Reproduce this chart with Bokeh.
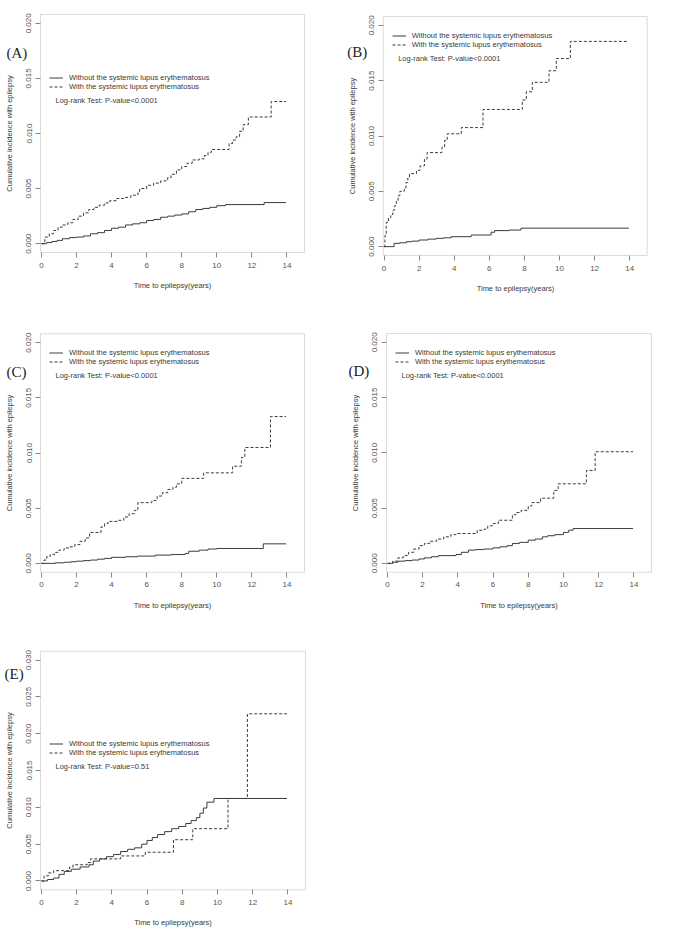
from bokeh.plotting import figure
from bokeh.layouts import column, row
from bokeh.models import Range1d, Label, Legend, LegendItem, FixedTicker, BoxAnnotation
from bokeh.embed import file_html
from bokeh.resources import INLINE

# ---- data: cumulative incidence step curves (time in years, value after step) ----
T_END = 13.95

a_non_t = [0, 0.3, 0.6, 0.9, 1.2, 1.6, 2.0, 2.4, 2.8, 3.2, 3.6, 4.0, 4.4, 4.8, 5.2, 5.6, 6.0,
           6.4, 6.8, 7.2, 7.6, 8.0, 8.4, 8.8, 9.2, 9.6, 10.0, 10.5, 12.7]
a_non_v = [0, .0001, .0002, .0003, .00045, .00055, .0006, .0007, .0009, .001, .0012, .0014,
           .0015, .0017, .0018, .0019, .0021, .0022, .0024, .0025, .0026, .0027, .0029, .0031,
           .0032, .0033, .00345, .00355, .00373]
a_sle_t = [0, 0.2, 0.45, 0.7, 0.95, 1.2, 1.5, 1.8, 2.1, 2.4, 2.7, 3.0, 3.3, 3.6, 3.9, 4.3, 4.7,
           5.1, 5.5, 5.6, 6.0, 6.4, 6.8, 7.2, 7.4, 7.7, 8.0, 8.3, 8.6, 9.0, 9.3, 9.5, 9.7, 10.7,
           10.9, 11.1, 11.3, 11.5, 11.8, 13.1]
a_sle_v = [0, .0006, .0009, .0012, .0015, .0017, .0019, .0022, .0025, .0028, .0031, .0033,
           .0035, .0037, .0039, .0041, .0042, .0044, .0046, .0050, .0053, .0055, .0057, .0060,
           .0063, .0067, .0070, .0073, .0076, .0077, .0080, .0083, .00855, .0091, .0094, .0097,
           .0102, .0108, .0115, .0129]

b_non_t = [0, 0.57, 0.9, 1.27, 1.6, 2.0, 2.5, 2.97, 3.4, 3.83, 4.97, 6.1, 6.3, 7.16, 7.8]
b_non_v = [0, .0003, .00035, .00045, .0005, .0006, .00068, .00075, .0008, .0009, .00105,
           .0013, .00145, .0015, .00167]
b_sle_t = [0, 0.05, 0.12, 0.25, 0.38, 0.5, 0.6, 0.7, 0.8, 0.9, 1.15, 1.25, 1.35, 1.45, 1.85,
           2.05, 2.3, 2.45, 3.3, 3.45, 3.6, 4.4, 5.64, 7.88, 8.11, 8.45, 9.4, 9.82, 10.62]
b_sle_v = [0, .0010, .0022, .0026, .0029, .0033, .0037, .0041, .0046, .0050, .0053, .0058,
           .0062, .0066, .0069, .0073, .0079, .0085, .0090, .0096, .0102, .01076, .0124,
           .01325, .0140, .01485, .0159, .0170, .01855]

c_non_t = [0, 0.8, 1.3, 1.7, 2.0, 2.4, 2.8, 3.2, 3.6, 4.0, 4.8, 5.5, 6.5, 7.4, 8.2, 8.4, 9.0,
           9.5, 10.0, 12.65]
c_non_v = [0, .00005, .0001, .00015, .0002, .00025, .0003, .00038, .00045, .00055, .0006,
           .00066, .00075, .0008, .0009, .0011, .0012, .0013, .00135, .00177]
c_sle_t = [0, 0.15, 0.3, 0.5, 0.75, 1.0, 1.3, 1.6, 1.9, 2.2, 2.5, 2.75, 3.4, 3.6, 3.8, 4.4,
           4.7, 5.0, 5.3, 5.5, 6.3, 6.6, 6.9, 7.2, 7.5, 7.7, 8.0, 9.25, 10.9, 11.4, 11.6, 13.06]
c_sle_v = [0, .0003, .0006, .0008, .001, .0012, .0014, .0015, .0017, .0020, .0023, .0028,
           .0033, .0036, .0038, .0039, .0042, .0045, .0048, .0055, .0057, .0061, .0064, .0067,
           .0069, .0072, .0077, .0082, .0088, .0096, .0105, .0133]

d_non_t = [0, 0.3, 0.6, 1.0, 1.4, 1.8, 2.1, 2.5, 2.9, 3.9, 4.2, 4.6, 5.0, 5.5, 6.0, 6.4, 6.8,
           7.1, 7.5, 8.0, 8.4, 8.8, 9.1, 9.5, 10.0, 10.3, 10.55]
d_non_v = [0, .0001, .0002, .00025, .0003, .0004, .0005, .0006, .0007, .0008, .001, .0012,
           .00125, .0013, .0014, .0015, .0016, .0018, .0019, .0021, .0022, .0024, .0025,
           .0026, .0028, .0030, .00315]
d_sle_t = [0, 0.3, 0.6, 0.9, 1.2, 1.5, 1.8, 2.1, 2.4, 2.8, 3.2, 3.6, 3.9, 5.1, 5.5, 5.7, 6.0,
           6.3, 7.1, 7.3, 7.6, 8.0, 8.2, 8.7, 9.45, 9.7, 11.3, 11.8]
d_sle_v = [0, .0002, .0005, .0007, .001, .0013, .0016, .0018, .002, .0022, .0024, .0026,
           .0027, .0030, .0031, .0034, .0036, .0039, .0044, .0046, .0048, .0052, .0055, .0059,
           .0066, .0072, .0084, .0101]

e_non_t = [0, 0.35, 0.7, 1.0, 1.3, 1.7, 2.2, 2.7, 2.95, 3.3, 3.7, 4.1, 4.5, 4.9, 5.3, 5.7,
           6.0, 6.3, 6.6, 7.0, 7.4, 7.8, 8.2, 8.5, 8.8, 9.0, 9.2, 9.4, 9.8]
e_non_v = [0, .0002, .0004, .0009, .0013, .0016, .0019, .0022, .0027, .0030, .0033, .0036,
           .0040, .0043, .0045, .0050, .0055, .0059, .0063, .0067, .0071, .0074, .0078, .0082,
           .0086, .0092, .0099, .0107, .0112]
e_sle_t = [0, 0.15, 0.4, 0.7, 1.6, 1.8, 2.6, 2.8, 4.5, 5.9, 7.5, 8.6, 10.6, 11.7]
e_sle_v = [0, .0007, .0011, .0014, .0019, .0022, .0025, .0030, .0034, .0039, .0056, .0071,
           .0112, .0227]

x_ticks = [0, 2, 4, 6, 8, 10, 12, 14]
y_ticks_20 = [0.0, 0.005, 0.010, 0.015, 0.020]
y_labels_20 = ["0.000", "0.005", "0.010", "0.015", "0.020"]
y_ticks_30 = [0.0, 0.005, 0.010, 0.015, 0.020, 0.025, 0.030]
y_labels_30 = ["0.000", "0.005", "0.010", "0.015", "0.020", "0.025", "0.030"]

label_non = "Without the systemic lupus erythematosus"
label_sle = "With the systemic lupus erythematosus"
p_strong = "Log-rank Test: P-value<0.0001"
p_weak = "Log-rank Test: P-value=0.51"

SANS = "Liberation Sans"
SERIF = "Liberation Serif"
LINE = "#3c3c3c"
BOX = "#8a8a8a"
TXT = "#3a3a3a"

X_LO, X_HI = -0.05, 15.0   # extent of the plotting box in years


def extend(t, v):
    return list(t) + [T_END], list(v) + [v[-1]]


def panel(tag, t_non, v_non, t_sle, v_sle, ptext, y_ticks, y_labels, width, height,
          box, legend_top, tag_dx, tag_dy):
    """box = (left, right, top, bottom) of the plotting box in canvas pixels."""
    bl, br, bt, bb = box
    y_top = y_ticks[-1]
    pad = 0.04 * y_top
    y_lo, y_hi = -pad, y_top + pad

    # the frame covers the whole canvas; axes sit on the edges of the box
    kx = (br - bl) / (X_HI - X_LO)
    ky = (bb - bt) / (y_hi - y_lo)
    x_range = Range1d(X_LO - bl / kx, X_HI + (width - br) / kx)
    y_range = Range1d(y_lo - (height - bb) / ky, y_hi + bt / ky)

    p = figure(width=width, height=height, output_backend="svg", toolbar_location=None,
               x_range=x_range, y_range=y_range, min_border=0)
    p.grid.visible = False
    p.outline_line_color = None
    p.background_fill_color = "white"
    p.border_fill_color = "white"

    p.add_layout(BoxAnnotation(left=X_LO, right=X_HI, bottom=y_lo, top=y_hi,
                               fill_color=None, line_color=BOX, line_width=1))

    for ax in (p.xaxis[0], p.yaxis[0]):
        ax.axis_line_color = None
        ax.major_tick_line_color = BOX
        ax.major_tick_out = 5
        ax.major_tick_in = 0
        ax.minor_tick_line_color = None
        ax.major_label_text_font = SANS
        ax.major_label_text_font_size = "8px"
        ax.major_label_text_color = "#555555"
        ax.major_label_standoff = 4
        ax.axis_label_text_font = SANS
        ax.axis_label_text_font_size = "7.5px"
        ax.axis_label_text_font_style = "normal"
        ax.axis_label_text_color = TXT
        ax.axis_label_standoff = 10

    p.xaxis.fixed_location = y_lo
    p.xaxis.bounds = (X_LO, X_HI)
    p.xaxis.ticker = FixedTicker(ticks=x_ticks)
    p.xaxis.major_label_standoff = 5
    p.xaxis.axis_label = "Time to epilepsy(years)"

    p.yaxis.fixed_location = X_LO
    p.yaxis.bounds = (y_lo, y_hi)
    p.yaxis.ticker = FixedTicker(ticks=y_ticks)
    p.yaxis.major_label_overrides = {t: s for t, s in zip(y_ticks, y_labels)}
    p.yaxis.major_label_orientation = "parallel"
    p.yaxis.axis_label = "Cumulative incidence with epilepsy"

    xn, yn = extend(t_non, v_non)
    xs, ys = extend(t_sle, v_sle)
    r_non = p.step(xn, yn, mode="after", line_color=LINE, line_width=1)
    r_sle = p.step(xs, ys, mode="after", line_color=LINE, line_width=1, line_dash="3 2")

    leg = Legend(items=[LegendItem(label=label_non, renderers=[r_non]),
                        LegendItem(label=label_sle, renderers=[r_sle])],
                 location=(bl + 9, height - (bt + legend_top) - 18),
                 glyph_width=14, glyph_height=9, label_height=9, label_standoff=6,
                 spacing=0, padding=0, margin=0, border_line_color=None,
                 background_fill_alpha=0, label_text_font=SANS,
                 label_text_font_size="7.5px", label_text_color=TXT)
    p.add_layout(leg)

    p.add_layout(Label(x=X_LO, y=y_hi, x_offset=15, y_offset=-(legend_top + 27),
                       text=ptext, text_font=SANS, text_font_size="7.5px",
                       text_color=TXT, text_baseline="middle"))
    p.add_layout(Label(x=X_LO, y=y_hi, x_offset=tag_dx, y_offset=-tag_dy,
                       text=tag, text_font=SERIF, text_font_size="15px",
                       text_color="#222222", text_baseline="middle"))
    return p


pa = panel("(A)", a_non_t, a_non_v, a_sle_t, a_sle_v, p_strong, y_ticks_20, y_labels_20,
           340, 300, (40, 304, 14, 252), legend_top=58.5, tag_dx=-34, tag_dy=38)
pb = panel("(B)", b_non_t, b_non_v, b_sle_t, b_sle_v, p_strong, y_ticks_20, y_labels_20,
           347, 300, (42.7, 306.7, 16, 255), legend_top=15, tag_dx=-36, tag_dy=35)
pc = panel("(C)", c_non_t, c_non_v, c_sle_t, c_sle_v, p_strong, y_ticks_20, y_labels_20,
           340, 320, (40, 304, 33.3, 271.7), legend_top=15, tag_dx=-34, tag_dy=38.5)
pd = panel("(D)", d_non_t, d_non_v, d_sle_t, d_sle_v, p_strong, y_ticks_20, y_labels_20,
           347, 320, (46, 311, 33, 271.7), legend_top=15, tag_dx=-38, tag_dy=37.5)
pe = panel("(E)", e_non_t, e_non_v, e_sle_t, e_sle_v, p_weak, y_ticks_30, y_labels_30,
           340, 309, (40, 305, 30.7, 269.3), legend_top=88, tag_dx=-36, tag_dy=23)

layout = column(row(pa, pb), row(pc, pd), row(pe))
open("out.html", "w").write(file_html(layout, INLINE))
